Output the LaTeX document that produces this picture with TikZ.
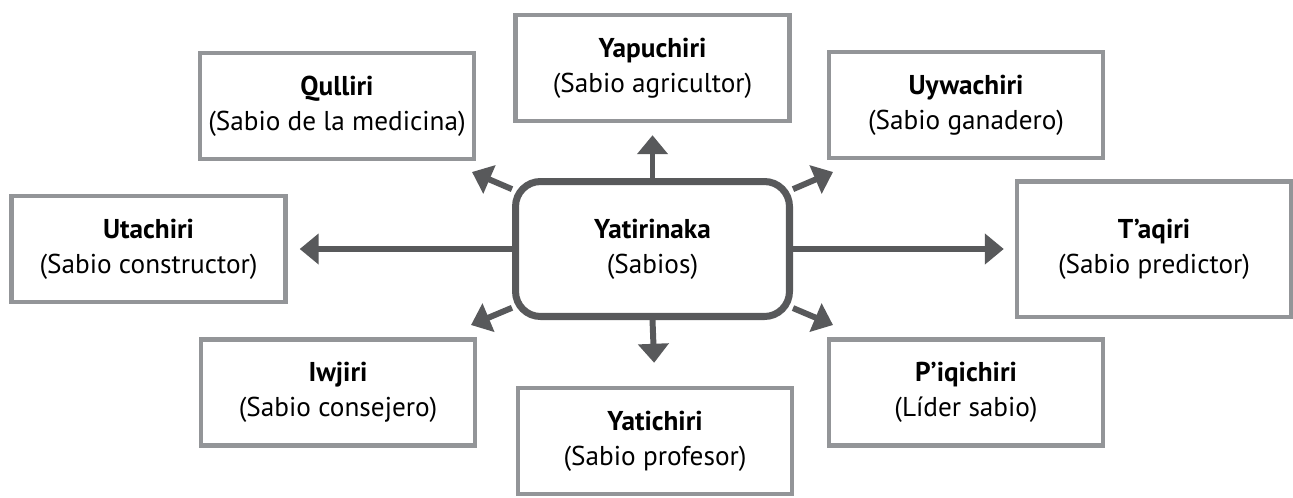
\documentclass[tikz,border=0pt]{standalone}
\usepackage{fontspec}
\setmainfont{PT Sans}
\usetikzlibrary{arrows.meta}
\definecolor{bordegris}{HTML}{939598}
\definecolor{grisoscuro}{HTML}{58595B}
\tikzset{
  sabio/.style={
    rectangle, minimum width=5.48cm, minimum height=2.12cm,
    align=center, draw=bordegris, line width=2.55pt, fill=white
  },
  centro/.style={
    rectangle, rounded corners=0.5cm, minimum width=5.48cm, minimum height=2.7cm,
    align=center, draw=grisoscuro, line width=4pt, fill=white
  },
  arrow/.style={
    -{Triangle[length=0.38cm, width=0.6cm]}, line width=3.4pt, color=grisoscuro
  }
}

\begin{document}
\begin{tikzpicture}[x=0.02cm, y=-0.02cm, every node/.style={font=\fontsize{15.5}{20}\selectfont}]
      \useasboundingbox (0,0) rectangle (1293,497);

      % Central node
      \node[centro] (yati) at (652.5,249) {\textbf{Yatirinaka}\\(Sabios)};

      % Sabios around
      \node[sabio] (yapu) at (652.5,68) {\textbf{Yapuchiri}\\(Sabio agricultor)};
      \node[sabio] (qull) at (337,106) {\textbf{Qulliri}\\(Sabio de la medicina)};
      \node[sabio] (uywa) at (966,105) {\textbf{Uywachiri}\\(Sabio ganadero)};
      \node[sabio] (utac) at (148.5,249) {\textbf{Utachiri}\\(Sabio constructor)};
      \node[sabio, minimum height=2.71cm] (taqi) at (1154,249) {\textbf{T’aqiri}\\(Sabio predictor)};
      \node[sabio] (iwji) at (338,392.5) {\textbf{Iwjiri}\\(Sabio consejero)};
      \node[sabio] (yatc) at (655,441) {\textbf{Yatichiri}\\(Sabio profesor)};
      \node[sabio] (piqi) at (966,392.5) {\textbf{P’iqichiri}\\(Líder sabio)};

      % Diagonal tips
      \coordinate (tipNO) at (472,172);
      \coordinate (tipNE) at (833,172);
      \coordinate (tipSO) at (471,325);
      \coordinate (tipSE) at (833,325);

      % Arrows
      \draw[arrow, shorten >=0.24cm] (yati.north) -- (yapu.south);
      \draw[arrow, shorten >=0.46cm] (yati.south) -- (yatc.north);
      \draw[arrow, shorten >=0.24cm] (yati.west) -- (utac.east);
      \draw[arrow, shorten >=0.22cm] (yati.east) -- (taqi.west);
      \draw[arrow] (yati) -- (tipNO);
      \draw[arrow] (yati) -- (tipNE);
      \draw[arrow] (yati) -- (tipSO);
      \draw[arrow] (yati) -- (tipSE);
    \end{tikzpicture}
\end{document}
